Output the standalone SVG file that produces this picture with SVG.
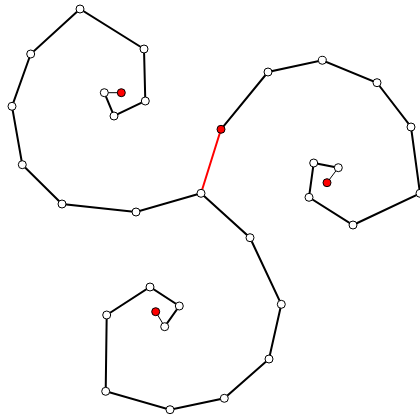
<svg xmlns="http://www.w3.org/2000/svg" width="420" height="417" viewBox="0 0 420 417">
<style>
.e{stroke:#000;stroke-width:2;fill:none;stroke-linecap:round}
.t{stroke:#000;stroke-width:1;fill:none}
.r{stroke:#f00;stroke-width:2;fill:none}
.n{fill:#fff;stroke:#000;stroke-width:1}
.nr{fill:#f00;stroke:#000;stroke-width:1}
</style>
<rect width="420" height="417" fill="#fff"/>
<g id="connectors">
<line class="r" x1="201" y1="193.3" x2="221" y2="129.3"/>
<polyline class="e" points="221,129.3 268,72 322.3,60.3 377,82.7 411,127 420,193.3 353,225 309,197.3 313.7,163 338.3,167.7"/>
<line class="t" x1="338.3" y1="167.7" x2="327" y2="182.7"/>
<polyline class="e" points="201,193.3 136,212 62,204 22.3,164.7 12,106.3 30.7,54 80,9 144,49 145.3,101 114,116 104.3,92.7"/>
<line class="t" x1="104.3" y1="92.7" x2="121.3" y2="92.7"/>
<polyline class="e" points="201,193.3 250,237.7 281.3,304.3 269,359 224.3,398.3 170,409.7 105.7,391.3 106.7,315 150,287 179.3,306 164.7,326.7"/>
<line class="t" x1="164.7" y1="326.7" x2="155.7" y2="311.7"/>
</g>
<g id="center"><circle class="n" cx="201" cy="193.3" r="4"/></g>
<g id="right-spiral">
<circle class="nr" cx="221" cy="129.3" r="4"/>
<circle class="n" cx="268" cy="72" r="4"/>
<circle class="n" cx="322.3" cy="60.3" r="4"/>
<circle class="n" cx="377" cy="82.7" r="4"/>
<circle class="n" cx="411" cy="127" r="4"/>
<circle class="n" cx="420" cy="193.3" r="4"/>
<circle class="n" cx="353" cy="225" r="4"/>
<circle class="n" cx="309" cy="197.3" r="4"/>
<circle class="n" cx="313.7" cy="163" r="4"/>
<circle class="n" cx="338.3" cy="167.7" r="4"/>
<circle class="nr" cx="327" cy="182.7" r="4"/>
</g>
<g id="left-spiral">
<circle class="n" cx="136" cy="212" r="4"/>
<circle class="n" cx="62" cy="204" r="4"/>
<circle class="n" cx="22.3" cy="164.7" r="4"/>
<circle class="n" cx="12" cy="106.3" r="4"/>
<circle class="n" cx="30.7" cy="54" r="4"/>
<circle class="n" cx="80" cy="9" r="4"/>
<circle class="n" cx="144" cy="49" r="4"/>
<circle class="n" cx="145.3" cy="101" r="4"/>
<circle class="n" cx="114" cy="116" r="4"/>
<circle class="n" cx="104.3" cy="92.7" r="4"/>
<circle class="nr" cx="121.3" cy="92.7" r="4"/>
</g>
<g id="bottom-spiral">
<circle class="n" cx="250" cy="237.7" r="4"/>
<circle class="n" cx="281.3" cy="304.3" r="4"/>
<circle class="n" cx="269" cy="359" r="4"/>
<circle class="n" cx="224.3" cy="398.3" r="4"/>
<circle class="n" cx="170" cy="409.7" r="4"/>
<circle class="n" cx="105.7" cy="391.3" r="4"/>
<circle class="n" cx="106.7" cy="315" r="4"/>
<circle class="n" cx="150" cy="287" r="4"/>
<circle class="n" cx="179.3" cy="306" r="4"/>
<circle class="n" cx="164.7" cy="326.7" r="4"/>
<circle class="nr" cx="155.7" cy="311.7" r="4"/>
</g>
</svg>
